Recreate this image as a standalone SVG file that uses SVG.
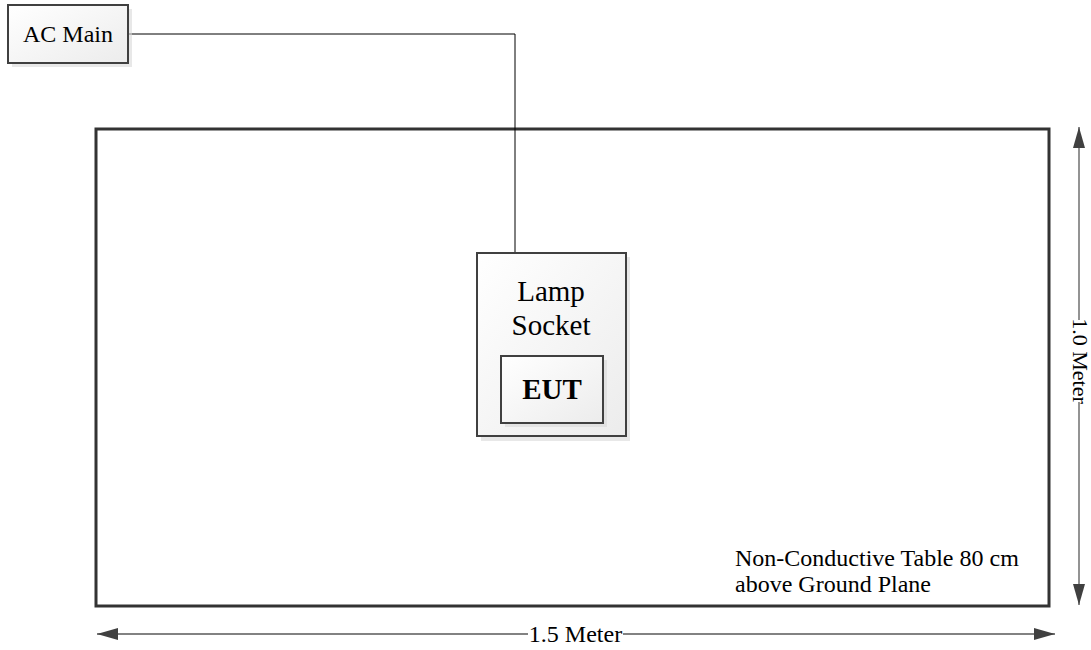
<svg xmlns="http://www.w3.org/2000/svg" width="1091" height="650" viewBox="0 0 1091 650">
<style>
.box{fill:url(#g);stroke:#404040;stroke-width:2}
.sh{fill:#d8d8d8;opacity:0.6}
.t{font-family:"Liberation Serif",serif;fill:#000}
.dim{stroke:#595959;stroke-width:1.3;fill:none}
.wire{stroke:#000;stroke-width:1;fill:none}
</style>
<defs>
<linearGradient id="g" x1="0" y1="0" x2="1" y2="1">
<stop offset="0" stop-color="#ffffff"/>
<stop offset="1" stop-color="#ececec"/>
</linearGradient>
<marker id="ah" viewBox="0 0 21 12" refX="21" refY="6" markerWidth="21" markerHeight="12" markerUnits="userSpaceOnUse" orient="auto-start-reverse">
<path d="M0,0 L21,6 L0,12 Z" fill="#404040"/>
</marker>
</defs>
<g id="table">
<rect x="96" y="129" width="953" height="477" fill="#fff" stroke="#333" stroke-width="3"/>
<text class="t" x="735" y="566" font-size="24">Non-Conductive Table 80 cm</text>
<text class="t" x="735" y="592" font-size="24">above Ground Plane</text>
</g>
<g id="connectors">
<polyline class="wire" points="128,34 515,34 515,252"/>
<line class="dim" x1="97" y1="634" x2="528" y2="634" marker-start="url(#ah)"/>
<line class="dim" x1="623" y1="634" x2="1055" y2="634" marker-end="url(#ah)"/>
<line class="dim" x1="1079" y1="127" x2="1079" y2="320" marker-start="url(#ah)"/>
<line class="dim" x1="1079" y1="402" x2="1079" y2="605" marker-end="url(#ah)"/>
</g>
<g id="dim-h">
<text class="t" x="575.5" y="642" font-size="24" text-anchor="middle">1.5 Meter</text>
</g>
<g id="dim-v">
<text class="t" font-size="22" text-anchor="middle" transform="translate(1073,361) rotate(90)">1.0 Meter</text>
</g>
<g id="ac-main">
<rect class="sh" x="12" y="9" width="120" height="58"/>
<rect class="box" x="8" y="5" width="120" height="58"/>
<text class="t" x="68" y="42" font-size="24" text-anchor="middle">AC Main</text>
</g>
<g id="lamp-socket">
<rect class="sh" x="481" y="257" width="149" height="184"/>
<rect class="box" x="477" y="253" width="149" height="183"/>
<text class="t" x="551" y="301" font-size="29" text-anchor="middle">Lamp</text>
<text class="t" x="551" y="335" font-size="29" text-anchor="middle">Socket</text>
</g>
<g id="eut">
<rect class="sh" x="505" y="360" width="102" height="67"/>
<rect class="box" x="501" y="356" width="102" height="67"/>
<text class="t" x="552" y="399" font-size="29" font-weight="bold" text-anchor="middle">EUT</text>
</g>
</svg>
